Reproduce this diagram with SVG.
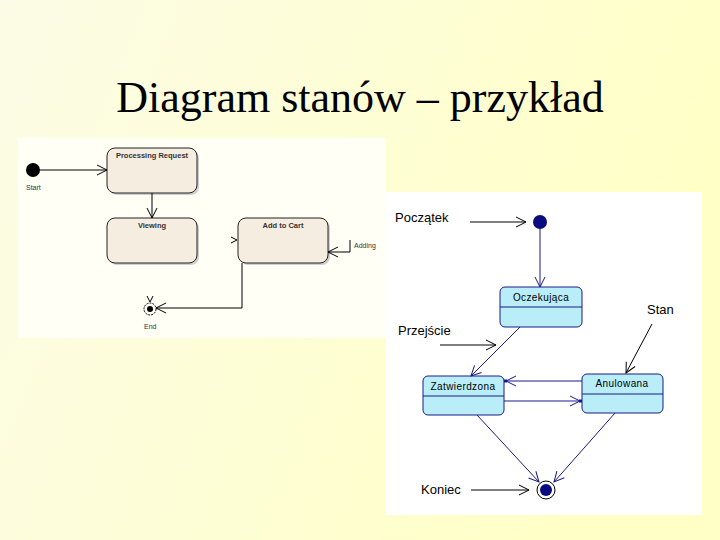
<svg xmlns="http://www.w3.org/2000/svg" width="720" height="540" viewBox="0 0 720 540">
<defs>
<linearGradient id="bg" x1="0" y1="0" x2="1" y2="0.3">
<stop offset="0" stop-color="#fcfce6"/>
<stop offset="1" stop-color="#ffffc6"/>
</linearGradient>
<marker id="openK" viewBox="0 0 12 12" refX="11" refY="6" markerWidth="12" markerHeight="12" markerUnits="userSpaceOnUse" orient="auto">
<path d="M1,1 L11,6 L1,11" fill="none" stroke="#000" stroke-width="1"/>
</marker>
<marker id="openN" viewBox="0 0 12 12" refX="11" refY="6" markerWidth="12" markerHeight="12" markerUnits="userSpaceOnUse" orient="auto">
<path d="M1,1 L11,6 L1,11" fill="none" stroke="#1a1a8c" stroke-width="1"/>
</marker>
<marker id="openNsq" viewBox="0 0 14 12" refX="13" refY="6" markerWidth="14" markerHeight="12" markerUnits="userSpaceOnUse" orient="auto">
<path d="M1,1 L11,6 L1,11" fill="none" stroke="#1a1a8c" stroke-width="1"/>
<rect x="10" y="4.5" width="3" height="3" fill="#1a1a8c"/>
</marker>
</defs>
<style>
.t{font-family:"Liberation Sans",Arial,sans-serif;fill:#000}
.lb{font-size:7.5px;font-weight:bold;text-anchor:middle;fill:#333}
.sm{font-size:7px;fill:#333}
.st{fill:#f6ede1;stroke:#222;stroke-width:1}
.sh{fill:#cfcfcf}
.cy{fill:#b9eef8;stroke:#1a1a8c;stroke-width:1}
.bx{font-size:10px;letter-spacing:0.4px;text-anchor:middle}
.big{font-size:13px}
.nl{fill:none;stroke:#1a1a8c;stroke-width:1}
.kl{fill:none;stroke:#000;stroke-width:1}
</style>
<rect width="720" height="540" fill="url(#bg)"/>
<text x="360" y="112" font-family="Liberation Serif,Times New Roman,serif" font-size="44" text-anchor="middle" fill="#000">Diagram stanów – przykład</text>

<!-- left panel -->
<rect x="18" y="138" width="368" height="200" fill="#fffff6"/>
<g id="start"><circle cx="33" cy="170" r="7" fill="#000"/><text class="t sm" x="26" y="190">Start</text></g>
<g id="processing"><rect class="sh" x="109" y="150" width="90" height="45" rx="8"/><rect class="st" x="107" y="148" width="90" height="45" rx="8"/><text class="t lb" x="152" y="158">Processing Request</text></g>
<g id="viewing"><rect class="sh" x="109" y="220" width="90" height="45" rx="8"/><rect class="st" x="107" y="218" width="90" height="45" rx="8"/><text class="t lb" x="152" y="228">Viewing</text></g>
<g id="addtocart"><rect class="sh" x="240" y="220" width="90" height="45" rx="8"/><rect class="st" x="238" y="218" width="90" height="45" rx="8"/><text class="t lb" x="283" y="228">Add to Cart</text></g>
<g id="end"><circle cx="150" cy="309" r="6" fill="none" stroke="#000" stroke-dasharray="2,1"/><circle cx="150" cy="309" r="3" fill="#000"/><text class="t sm" x="144" y="329">End</text></g>
<text class="t sm" x="354" y="248">Adding</text>
<g id="left-connectors">
<path class="kl" d="M40,170 H107" marker-end="url(#openK)"/>
<path class="kl" d="M152,193 V218" marker-end="url(#openK)"/>
<path class="kl" d="M231,237 L237,240 L231,243"/>
<path class="kl" d="M350,240 V252 H328" marker-end="url(#openK)"/>
<path class="kl" d="M242,263 V308 H156" marker-end="url(#openK)"/>
<path class="kl" d="M147,296 L150,302 L153,296"/>
</g>

<!-- right panel -->
<rect x="386" y="192" width="316" height="323" fill="#ffffff"/>
<g id="poczatek"><circle cx="540" cy="222" r="7" fill="#0b0b80"/></g>
<g id="oczekujaca"><rect class="cy" x="500" y="287" width="82" height="40" rx="5"/><line class="nl" x1="500" y1="307" x2="582" y2="307"/><text class="t bx" x="541" y="301">Oczekująca</text></g>
<g id="zatwierdzona"><rect class="cy" x="423" y="376" width="81" height="39" rx="5"/><line class="nl" x1="423" y1="396" x2="504" y2="396"/><text class="t bx" x="463" y="390">Zatwierdzona</text></g>
<g id="anulowana"><rect class="cy" x="582" y="374" width="81" height="39" rx="5"/><line class="nl" x1="582" y1="394" x2="663" y2="394"/><text class="t bx" x="622" y="387">Anulowana</text></g>
<g id="koniec"><circle cx="546" cy="490" r="9" fill="#fff" stroke="#000" stroke-width="1"/><circle cx="546" cy="490" r="6" fill="#0b0b80"/></g>
<text class="t big" x="395" y="222">Początek</text>
<text class="t big" x="647" y="314">Stan</text>
<text class="t big" x="398" y="335">Przejście</text>
<text class="t big" x="421" y="494">Koniec</text>
<g id="right-connectors">
<path class="kl" d="M470,222 H526" marker-end="url(#openK)"/>
<path class="nl" d="M540,229 V287" marker-end="url(#openN)"/>
<path class="kl" d="M440,345 H496" marker-end="url(#openK)"/>
<path class="nl" d="M520,327 L471,376" marker-end="url(#openN)"/>
<path class="kl" d="M652,324 L626,373" marker-end="url(#openK)"/>
<path class="nl" d="M582,381 H504" marker-end="url(#openNsq)"/>
<path class="nl" d="M504,401 H582" marker-end="url(#openNsq)"/>
<path class="kl" d="M471,490 H529" marker-end="url(#openK)"/>
<path class="nl" d="M477,415 L539,482" marker-end="url(#openN)"/>
<path class="nl" d="M615,413 L554,482" marker-end="url(#openN)"/>
</g>
</svg>
